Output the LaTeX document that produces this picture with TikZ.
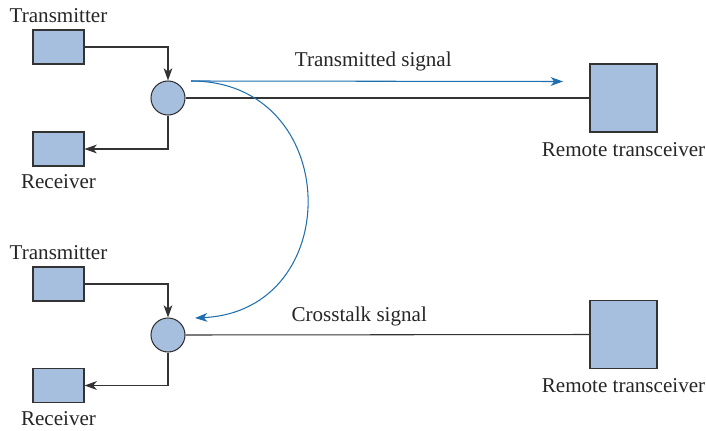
\documentclass[tikz,border=0pt]{standalone}
\usepackage{fontspec}
\setmainfont{Liberation Serif}
\usetikzlibrary{arrows.meta, positioning}
\definecolor{boxfill}{HTML}{A6BFDE}
\definecolor{linegray}{HTML}{333333}
\definecolor{sigblue}{HTML}{1F6FAF}
\tikzset{
    unit/.style={
        rectangle, minimum width=1.02cm, minimum height=0.68cm,
        draw=linegray, line width=0.6pt, fill=boxfill, inner sep=0pt
    },
    remote/.style={
        rectangle, minimum width=1.34cm, minimum height=1.36cm,
        draw=linegray, line width=0.6pt, fill=boxfill, inner sep=0pt
    },
    hybrid/.style={
        circle, minimum size=0.68cm, draw=linegray, line width=0.6pt,
        fill=boxfill, inner sep=0pt
    },
    tag/.style={
        font=\fontsize{12}{14}\selectfont, inner sep=1pt, text=black!85
    },
    arrow/.style={
        -{Stealth[length=7pt, width=5pt, inset=2pt]}, line width=0.6pt, draw=linegray
    },
    wire/.style={
        line width=0.6pt, draw=linegray
    },
    signal/.style={
        -{Stealth[length=7pt, width=5pt, inset=2pt]}, line width=0.6pt, draw=sigblue
    }
}
\begin{document}
\begin{tikzpicture}

    \useasboundingbox (0,0) rectangle (14.12,-8.6);

    % upper pair
    \node[unit]   (txA)  at (1.17,-0.94) {};
    \node[hybrid] (hubA) at (3.36,-1.96) {};
    \node[unit]   (rxA)  at (1.17,-2.98) {};
    \node[remote] (remA) at (12.47,-1.96) {};

    \node[tag, above=0.09cm of txA]  (txAlbl)  {Transmitter};
    \node[tag, below=0.12cm of rxA]  (rxAlbl)  {Receiver};
    \node[tag, below=0.15cm of remA] (remAlbl) {Remote transceiver};

    % lower pair
    \node[unit]   (txB)  at (1.17,-5.68) {};
    \node[hybrid] (hubB) at (3.36,-6.70) {};
    \node[unit]   (rxB)  at (1.17,-7.71) {};
    \node[remote] (remB) at (12.47,-6.69) {};

    \node[tag, above=0.09cm of txB]  (txBlbl)  {Transmitter};
    \node[tag, below=0.12cm of rxB]  (rxBlbl)  {Receiver};
    \node[tag, below=0.15cm of remB] (remBlbl) {Remote transceiver};

    \draw[arrow] (txA.east)   -| (hubA.north);
    \draw[arrow] (hubA.south) |- (rxA.east);
    \draw[wire]  (hubA.east)  -- (remA.west);

    \draw[arrow] (txB.east)   -| (hubB.north);
    \draw[arrow] (hubB.south) |- (rxB.east);
    \draw[wire]  (hubB.east)  -- (remB.west)
        node[tag, pos=0.43, above=0.12cm] (xtlbl) {Crosstalk signal};

    % signal paths
    \coordinate (sigstart) at (3.82,-1.62);
    \coordinate (sigend)   at (11.26,-1.63);
    \coordinate (xtend)    at (3.90,-6.36);

    \draw[signal] (sigstart) -- (sigend)
        node[tag, pos=0.49, above=0.15cm] (txlbl) {Transmitted signal};
    \draw[signal] (sigstart) .. controls +(3.04,0) and +(3.04,0.14) .. (xtend);

\end{tikzpicture}
\end{document}
